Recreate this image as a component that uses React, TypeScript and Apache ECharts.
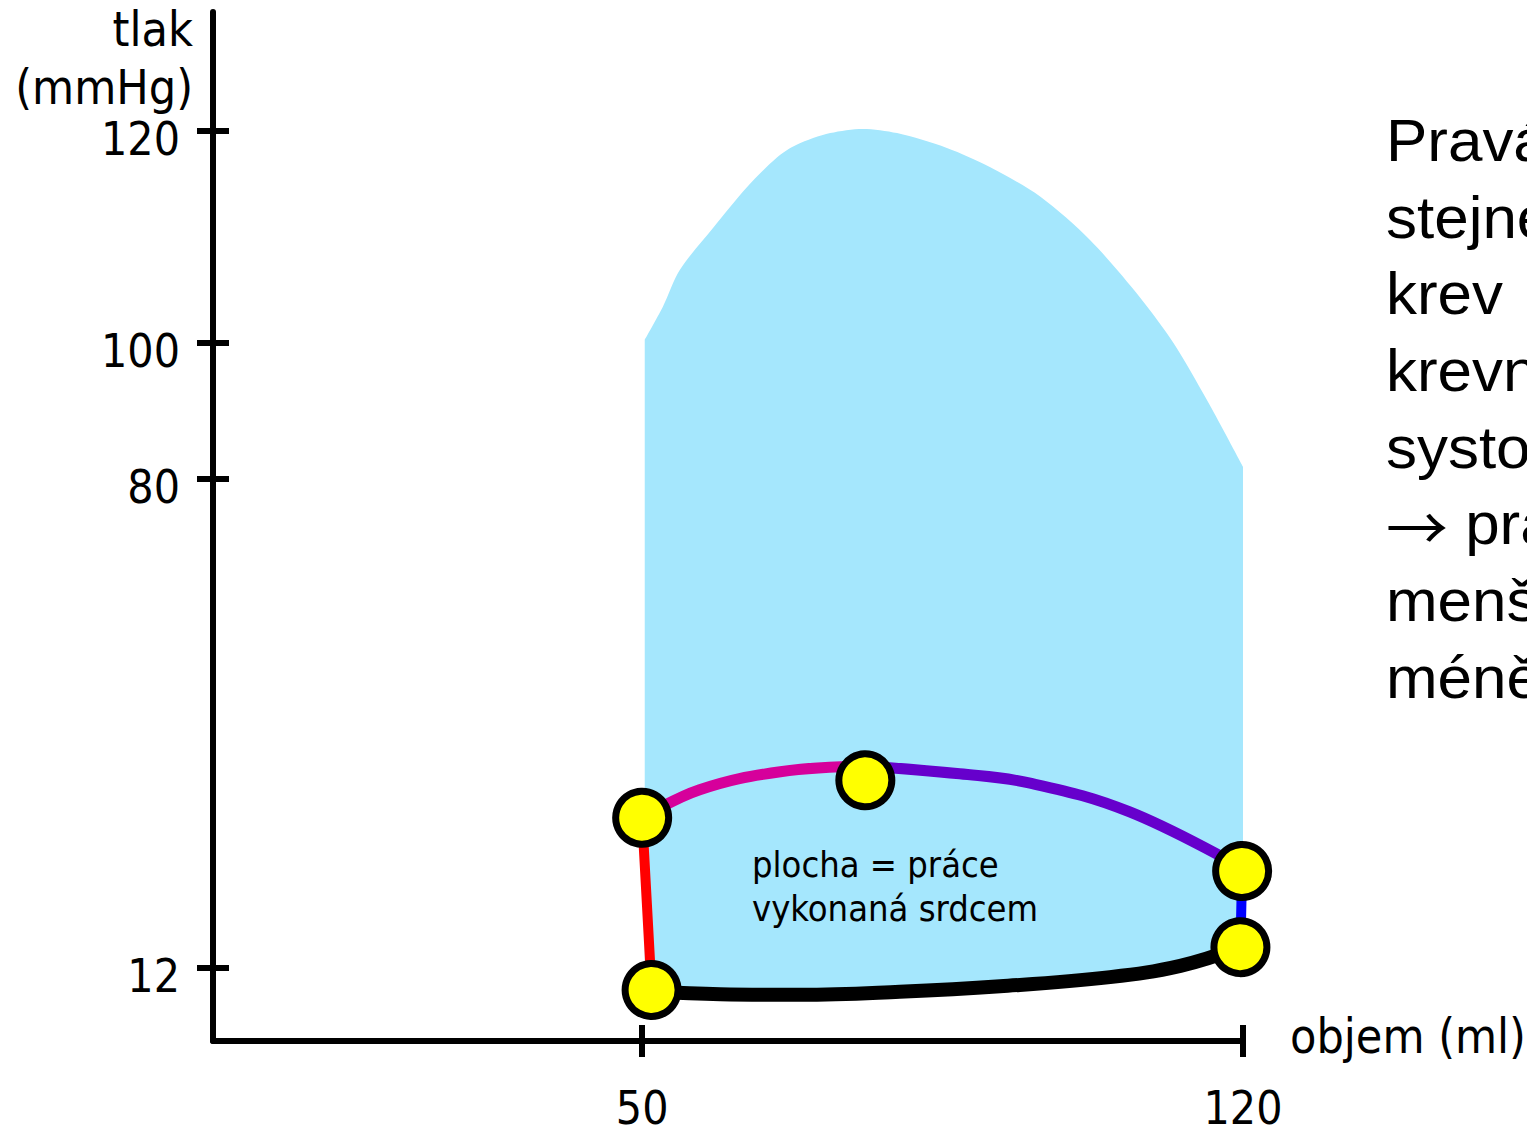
import { useEffect, useRef } from 'react';
import * as echarts from 'echarts';

// Axis ticks (x in ml, y in mmHg)
const X_TICKS = [50, 120];
const Y_TICKS = [12, 80, 100, 120];

// The drawn pressure axis is not linear: piecewise-linear scale between these knots
const WARP_MMHG = [0, 12, 80, 100, 120, 131.2];
const WARP_AXIS = [0, 73, 562, 698, 910, 1029];

// Light-blue area (upper boundary), x in ml, y in mmHg
const AREA_X = [50.3, 52.4, 54.4, 58.3, 62.2, 65.7, 68.0, 71.9, 75.7, 79.7, 85.5, 90.5, 96.4, 102.2, 108.0, 111.9, 115.8, 120.0];
const AREA_Y = [100.3, 103.4, 106.9, 110.9, 114.7, 117.5, 118.7, 119.8, 120.2, 119.8, 118.4, 116.6, 113.8, 109.7, 104.3, 100.0, 91.6, 81.8];

// Loop segments
const RED_X = [51.1, 50.0];
const RED_Y = [8.4, 32.9];
const PINK_X = [50.0, 56.7, 66.1, 76.0];
const PINK_Y = [32.9, 36.8, 39.3, 40.1];
const PURPLE_X = [76.0, 87.0, 95.2, 106.8, 119.9];
const PURPLE_Y = [40.1, 39.0, 37.7, 33.7, 25.9];
const BLUE_X = [119.9, 119.7];
const BLUE_Y = [25.5, 14.9];
const BLACK_X = [51.1, 59.1, 68.4, 80.0, 91.7, 104.5, 112.7, 119.7];
const BLACK_Y = [8.1, 7.7, 7.6, 8.1, 9.0, 10.5, 12.3, 14.9];

// Yellow points of the loop
const DOT_X = [51.1, 50.0, 76.0, 119.9, 119.7];
const DOT_Y = [8.4, 32.9, 38.1, 25.5, 14.9];

const NOTE_LINES = ['plocha = práce', 'vykonaná srdcem'];
const RIGHT_LINES = [
  'Pravá komora vypuzuje',
  'stejné množství krve, ale',
  'krev',
  'krevního oběhu s nižším',
  'systolickým tlakem',
  '{a|→} pravá komora vykonává',
  'menší práci, a proto je',
  'méně svalnatá',
];

function warp(p: number): number {
  for (let i = 1; i < WARP_MMHG.length; i++) {
    if (p <= WARP_MMHG[i] || i === WARP_MMHG.length - 1) {
      const a = WARP_MMHG[i - 1], b = WARP_MMHG[i];
      const t = (p - a) / (b - a);
      return WARP_AXIS[i - 1] + t * (WARP_AXIS[i] - WARP_AXIS[i - 1]);
    }
  }
  return 0;
}

const pts = (xs: number[], ys: number[]) => xs.map((x, i) => [x, warp(ys[i])]);

const FONT = 'DejaVu Sans Condensed';

export default function App() {
  const ref = useRef<HTMLDivElement>(null);
  useEffect(() => {
    if (!ref.current) return;
    const chart = echarts.init(ref.current, undefined, { renderer: 'svg' });
    const yTickVals = Y_TICKS.map(warp);
    const coverData = [
      [AREA_X[0] - 0.4, warp(BLACK_Y[0])],
      ...pts(BLACK_X, BLACK_Y),
      [AREA_X[AREA_X.length - 1] + 0.4, warp(BLACK_Y[BLACK_Y.length - 1])],
    ];
    const gridRect = { left: 213, top: 12, width: 1030, height: 1029, containLabel: false, outerBoundsMode: 'none' };
    const lineSeries = (data: number[][], color: string, width: number, z: number, smooth: number | boolean) => ({
      type: 'line',
      data,
      xAxisIndex: 0,
      yAxisIndex: 0,
      symbol: 'none',
      smooth,
      z,
      lineStyle: { color, width, cap: 'round' },
      silent: true,
    });
    chart.setOption({
      animation: false,
      grid: [
        { ...gridRect },
        { ...gridRect },
      ],
      xAxis: [
        {
          type: 'value', gridIndex: 0, min: 0, max: 120, z: 10,
          axisLine: { show: true, onZero: false, lineStyle: { color: '#000', width: 6 } },
          axisTick: { show: true, length: 16, customValues: X_TICKS, lineStyle: { color: '#000', width: 6 } },
          axisLabel: { show: true, customValues: X_TICKS, margin: 52, lineHeight: 30, color: '#000', fontSize: 46, fontFamily: FONT },
          splitLine: { show: false },
          name: 'objem (ml)', nameLocation: 'end', nameGap: 47,
          nameTextStyle: { color: '#000', fontSize: 48, fontFamily: FONT, align: 'left', verticalAlign: 'bottom', lineHeight: 10 },
        },
        {
          type: 'value', gridIndex: 1, min: 0, max: 120, z: 10,
          axisLine: { show: false },
          axisTick: { show: true, inside: true, length: 16, customValues: X_TICKS, lineStyle: { color: '#000', width: 6 } },
          axisLabel: { show: false },
          splitLine: { show: false },
        },
      ],
      yAxis: [
        {
          type: 'value', gridIndex: 0, min: 0, max: WARP_AXIS[WARP_AXIS.length - 1], z: 10,
          axisLine: { show: true, onZero: false, lineStyle: { color: '#000', width: 6 } },
          axisTick: { show: true, length: 16, customValues: yTickVals, lineStyle: { color: '#000', width: 6 } },
          axisLabel: {
            show: true, customValues: yTickVals, margin: 33, color: '#000', fontSize: 46, fontFamily: FONT,
            verticalAlign: 'top', lineHeight: 16,
            formatter: (v: number) => {
              let best = 0;
              yTickVals.forEach((t, i) => { if (Math.abs(t - v) < Math.abs(yTickVals[best] - v)) best = i; });
              return String(Y_TICKS[best]);
            },
          },
          splitLine: { show: false },
          name: 'tlak\n(mmHg)', nameLocation: 'end', nameGap: -113,
          nameTextStyle: {
            color: '#000', fontSize: 48, fontFamily: FONT, align: 'right', verticalAlign: 'bottom',
            lineHeight: 58, padding: [0, 20, 0, 0],
          },
        },
        {
          type: 'value', gridIndex: 1, min: 0, max: WARP_AXIS[WARP_AXIS.length - 1], z: 10,
          axisLine: { show: false },
          axisTick: { show: true, inside: true, length: 16, customValues: yTickVals, lineStyle: { color: '#000', width: 6 } },
          axisLabel: { show: false },
          splitLine: { show: false },
        },
      ],
      series: [
        {
          type: 'line', data: pts(AREA_X, AREA_Y), xAxisIndex: 0, yAxisIndex: 0,
          symbol: 'none', smooth: 0.3, z: 1, silent: true,
          lineStyle: { width: 0, opacity: 0 },
          areaStyle: { color: '#a5e7fd', opacity: 1 },
        },
        {
          type: 'line', data: coverData, xAxisIndex: 0, yAxisIndex: 0,
          symbol: 'none', smooth: 0.4, z: 1.5, silent: true,
          lineStyle: { width: 0, opacity: 0 },
          areaStyle: { color: '#ffffff', opacity: 1 },
        },
        lineSeries(pts(BLACK_X, BLACK_Y), '#000000', 14, 2, 0.4),
        lineSeries(pts(RED_X, RED_Y), '#ff0000', 10, 2, false),
        lineSeries(pts(BLUE_X, BLUE_Y), '#0000ff', 10, 2, false),
        lineSeries(pts(PINK_X, PINK_Y), '#d6009b', 11, 2, 0.4),
        lineSeries(pts(PURPLE_X, PURPLE_Y), '#6600cc', 11, 2, 0.4),
        {
          type: 'scatter', data: pts(DOT_X, DOT_Y), xAxisIndex: 0, yAxisIndex: 0,
          symbol: 'circle', symbolSize: 53, z: 4, silent: true,
          itemStyle: { color: '#ffff00', borderColor: '#000000', borderWidth: 7, opacity: 1 },
        },
      ],
      graphic: [
        {
          type: 'text', left: 752, top: 842, z: 100,
          style: { text: NOTE_LINES.join('\n'), fontSize: 36, fontFamily: FONT, lineHeight: 44, fill: '#000' },
        },
        {
          type: 'text', x: 1386, y: 102, scaleX: 1.05, z: 100,
          style: {
            text: RIGHT_LINES.join('\n'), x: 0, y: 0, align: 'left', verticalAlign: 'top',
            fontSize: 59, fontFamily: 'Liberation Sans', lineHeight: 76.7, fill: '#000',
            rich: {
              a: { fontSize: 59, fontFamily: 'Noto Sans CJK SC', lineHeight: 76.7, fill: '#000' },
            },
          },
        },
      ],
    });
    return () => chart.dispose();
  }, []);
  return (
    <div
      ref={ref}
      style={{ position: 'fixed', left: 0, top: 0, width: 1527, height: 1127, background: '#fff', overflow: 'hidden' }}
    />
  );
}
